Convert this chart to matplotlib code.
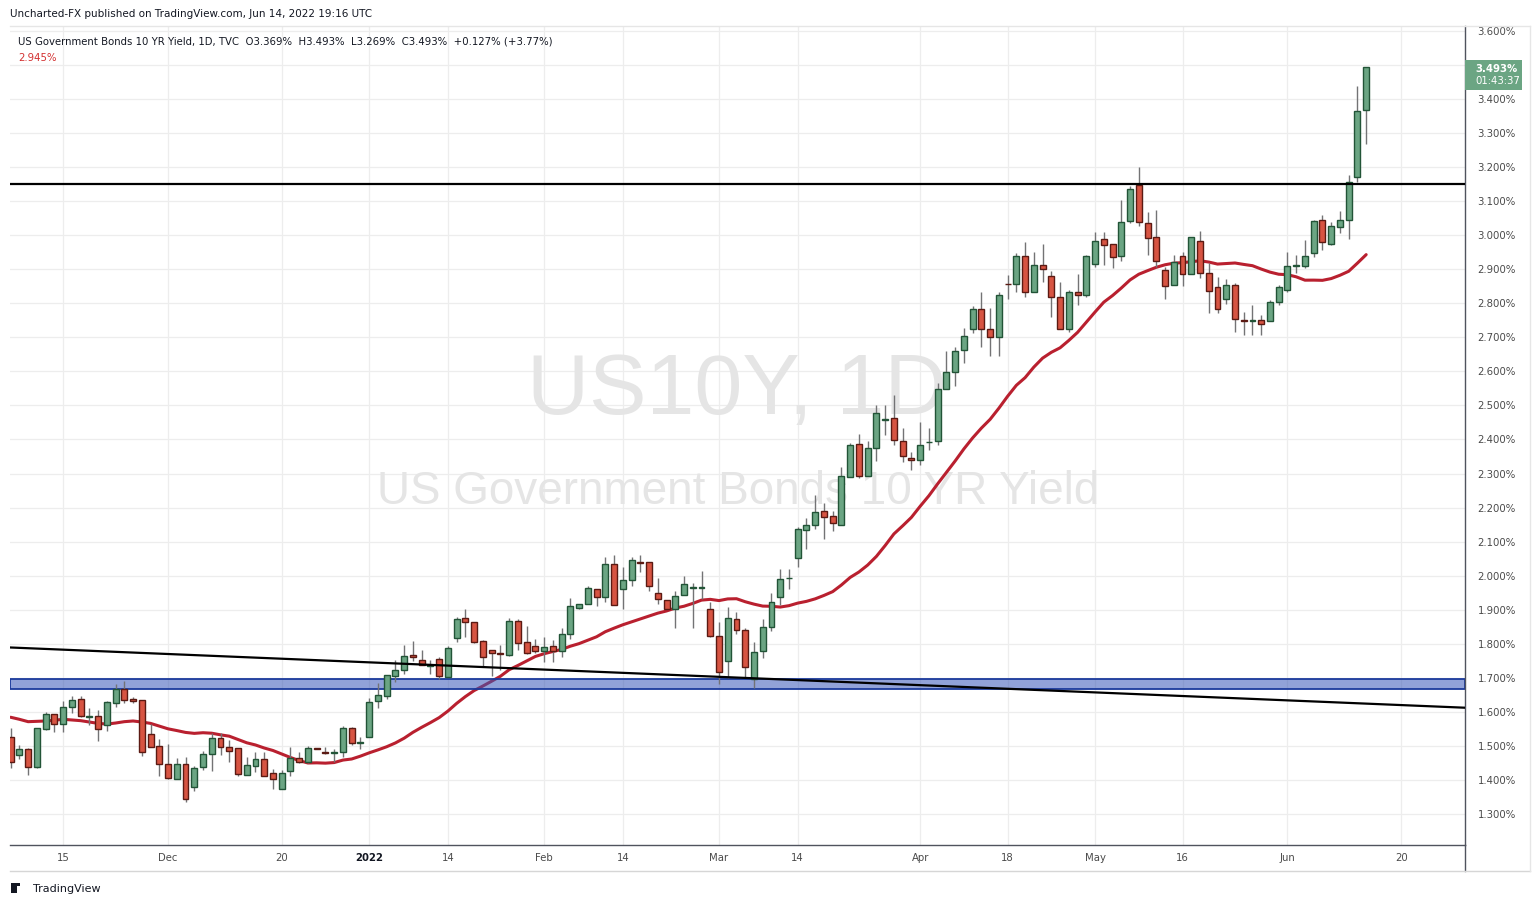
import numpy as np
import pandas as pd
import matplotlib
matplotlib.use('Agg')
import matplotlib.pyplot as plt
from matplotlib.patches import Rectangle
from matplotlib.lines import Line2D

# US10Y daily candles, Nov 2021 - Jun 14 2022 (values in %)
opens = [1.526, 1.472, 1.490, 1.437, 1.550, 1.593, 1.563, 1.613, 1.637, 1.586,
         1.587, 1.560, 1.625, 1.666, 1.638, 1.634, 1.534, 1.501, 1.446, 1.402,
         1.446, 1.380, 1.437, 1.475, 1.522, 1.498, 1.493, 1.413, 1.440, 1.460,
         1.421, 1.374, 1.425, 1.463, 1.454, 1.492, 1.481, 1.479, 1.483, 1.551,
         1.509, 1.527, 1.631, 1.645, 1.704, 1.722, 1.766, 1.751, 1.735, 1.754,
         1.703, 1.816, 1.877, 1.863, 1.808, 1.781, 1.773, 1.768, 1.866, 1.804,
         1.792, 1.778, 1.792, 1.778, 1.830, 1.904, 1.916, 1.960, 1.936, 2.033,
         1.960, 1.986, 2.041, 2.040, 1.948, 1.927, 1.901, 1.942, 1.965, 1.965,
         1.901, 1.824, 1.748, 1.874, 1.839, 1.695, 1.778, 1.848, 1.936, 1.992,
         2.051, 2.134, 2.148, 2.189, 2.174, 2.148, 2.289, 2.386, 2.292, 2.374,
         2.458, 2.462, 2.395, 2.347, 2.339, 2.392, 2.396, 2.547, 2.597, 2.662,
         2.724, 2.782, 2.724, 2.702, 2.858, 2.856, 2.938, 2.832, 2.912, 2.879,
         2.820, 2.724, 2.832, 2.823, 2.916, 2.988, 2.973, 2.938, 3.041, 3.148,
         3.035, 2.994, 2.898, 2.853, 2.938, 2.885, 2.982, 2.888, 2.847, 2.812,
         2.853, 2.751, 2.748, 2.750, 2.747, 2.803, 2.838, 2.910, 2.909, 2.947,
         3.044, 2.975, 3.023, 3.044, 3.172, 3.369]
highs = [1.552, 1.502, 1.493, 1.553, 1.598, 1.595, 1.632, 1.645, 1.646, 1.610,
         1.605, 1.632, 1.682, 1.691, 1.643, 1.636, 1.563, 1.521, 1.505, 1.463,
         1.468, 1.441, 1.485, 1.537, 1.537, 1.517, 1.493, 1.466, 1.482, 1.482,
         1.431, 1.429, 1.496, 1.482, 1.500, 1.493, 1.496, 1.490, 1.559, 1.554,
         1.525, 1.640, 1.684, 1.707, 1.752, 1.796, 1.808, 1.782, 1.752, 1.762,
         1.793, 1.879, 1.902, 1.863, 1.811, 1.781, 1.796, 1.877, 1.873, 1.852,
         1.814, 1.819, 1.811, 1.845, 1.933, 1.918, 1.970, 1.960, 2.056, 2.061,
         2.024, 2.055, 2.061, 2.040, 1.992, 1.927, 1.955, 1.999, 1.977, 2.014,
         1.922, 1.864, 1.907, 1.894, 1.845, 1.806, 1.874, 1.948, 2.019, 2.020,
         2.144, 2.169, 2.236, 2.212, 2.191, 2.318, 2.391, 2.416, 2.396, 2.501,
         2.502, 2.531, 2.433, 2.363, 2.451, 2.434, 2.565, 2.660, 2.671, 2.728,
         2.792, 2.833, 2.785, 2.833, 2.883, 2.947, 2.979, 2.951, 2.974, 2.894,
         2.862, 2.839, 2.886, 2.942, 3.009, 3.009, 2.973, 3.103, 3.145, 3.201,
         3.068, 3.074, 2.906, 2.942, 2.951, 2.994, 3.013, 2.917, 2.876, 2.870,
         2.859, 2.774, 2.794, 2.766, 2.810, 2.854, 2.951, 2.943, 2.986, 3.045,
         3.059, 3.038, 3.071, 3.177, 3.438, 3.493]
lows = [1.435, 1.460, 1.415, 1.435, 1.548, 1.541, 1.541, 1.596, 1.586, 1.560,
        1.515, 1.545, 1.615, 1.627, 1.627, 1.471, 1.498, 1.411, 1.402, 1.402,
        1.336, 1.368, 1.429, 1.427, 1.472, 1.452, 1.411, 1.413, 1.424, 1.410,
        1.372, 1.372, 1.412, 1.449, 1.451, 1.490, 1.476, 1.453, 1.468, 1.503,
        1.492, 1.527, 1.612, 1.638, 1.689, 1.712, 1.750, 1.737, 1.712, 1.695,
        1.701, 1.806, 1.821, 1.801, 1.733, 1.705, 1.723, 1.765, 1.781, 1.770,
        1.772, 1.747, 1.747, 1.760, 1.813, 1.902, 1.916, 1.912, 1.923, 1.913,
        1.902, 1.971, 2.012, 1.956, 1.916, 1.901, 1.847, 1.942, 1.847, 1.930,
        1.819, 1.683, 1.700, 1.828, 1.701, 1.669, 1.759, 1.838, 1.913, 1.960,
        2.026, 2.077, 2.136, 2.107, 2.132, 2.148, 2.289, 2.286, 2.292, 2.338,
        2.414, 2.383, 2.335, 2.309, 2.325, 2.369, 2.384, 2.547, 2.557, 2.626,
        2.714, 2.673, 2.646, 2.646, 2.812, 2.834, 2.820, 2.832, 2.864, 2.761,
        2.724, 2.717, 2.796, 2.820, 2.908, 2.914, 2.903, 2.925, 3.035, 3.028,
        2.943, 2.908, 2.814, 2.853, 2.852, 2.885, 2.875, 2.773, 2.773, 2.798,
        2.717, 2.707, 2.706, 2.707, 2.747, 2.795, 2.833, 2.888, 2.905, 2.937,
        2.957, 2.971, 3.008, 2.989, 3.157, 3.269]
closes = [1.4525, 1.490, 1.437, 1.551, 1.593, 1.563, 1.613, 1.634, 1.589, 1.588,
          1.549, 1.628, 1.666, 1.636, 1.633, 1.481, 1.498, 1.446, 1.405, 1.446,
          1.343, 1.434, 1.475, 1.522, 1.498, 1.484, 1.416, 1.443, 1.460, 1.410,
          1.402, 1.421, 1.463, 1.452, 1.493, 1.491, 1.479, 1.481, 1.551, 1.509,
          1.511, 1.628, 1.648, 1.707, 1.722, 1.763, 1.760, 1.737, 1.736, 1.704,
          1.787, 1.872, 1.863, 1.806, 1.760, 1.772, 1.769, 1.866, 1.801, 1.772,
          1.778, 1.789, 1.778, 1.830, 1.910, 1.916, 1.963, 1.936, 2.033, 1.913,
          1.986, 2.045, 2.038, 1.971, 1.930, 1.901, 1.939, 1.974, 1.966, 1.966,
          1.823, 1.716, 1.877, 1.841, 1.733, 1.775, 1.848, 1.924, 1.989, 1.994,
          2.136, 2.148, 2.186, 2.171, 2.154, 2.292, 2.383, 2.292, 2.374, 2.477,
          2.460, 2.398, 2.351, 2.339, 2.384, 2.394, 2.547, 2.597, 2.659, 2.703,
          2.782, 2.724, 2.702, 2.824, 2.856, 2.938, 2.832, 2.912, 2.900, 2.820,
          2.724, 2.832, 2.825, 2.938, 2.982, 2.972, 2.935, 3.038, 3.135, 3.038,
          2.991, 2.923, 2.850, 2.920, 2.885, 2.994, 2.888, 2.835, 2.782, 2.853,
          2.753, 2.749, 2.750, 2.740, 2.803, 2.847, 2.909, 2.912, 2.938, 3.041,
          2.979, 3.026, 3.044, 3.155, 3.364, 3.493]

# 20 day MA values for the first bars (no earlier data)
ma_head = [1.584, 1.578, 1.571, 1.572, 1.573, 1.575, 1.578, 1.576, 1.574, 1.570,
           1.566, 1.564, 1.567, 1.571, 1.573, 1.570, 1.566, 1.558, 1.550]

tick_pos = [6, 18, 31, 41, 50, 61, 70, 81, 90, 104, 114, 124, 134, 146, 159]
tick_labels = ['15', 'Dec', '20', '2022', '14', 'Feb', '14', 'Mar', '14', 'Apr',
               '18', 'May', '16', 'Jun', '20']
price_ticks = [1.3, 1.4, 1.5, 1.6, 1.7, 1.8, 1.9, 2.0, 2.1, 2.2, 2.3, 2.4,
               2.5, 2.6, 2.7, 2.8, 2.9, 3.0, 3.1, 3.2, 3.3, 3.4, 3.5, 3.6]

resistance = 3.152
trend_line = [1.789, 1.612]      # value at left edge, right edge
support_zone = [1.667, 1.697]

W, H = 1537, 907
UP, DOWN = '#6ba583', '#d75442'
UP_EDGE, DOWN_EDGE = '#225437', '#5b1a13'
WICK = '#737375'


def fx(x):
    return x / W


def fy(y):
    return 1 - y / H


fig = plt.figure(figsize=(W / 100, H / 100), dpi=100)
ax = fig.add_axes([fx(10), fy(845), fx(1465) - fx(10), fy(26) - fy(845)])

o = np.array(opens)
h = np.array(highs)
l = np.array(lows)
c = np.array(closes)
idx = np.arange(len(o))
up = c >= o

# moving average
ma = pd.Series(c).rolling(20).mean().values
ma[:len(ma_head)] = ma_head

# grid
for p in price_ticks:
    ax.axhline(p, color='#ededed', lw=0.9, zorder=0)
for t in tick_pos:
    ax.axvline(t, color='#ededed', lw=0.9, zorder=0)

# watermark
ax.text(fx(737), fy(392), 'US10Y, 1D', transform=fig.transFigure, ha='center', va='center',
        fontsize=62, color='#e5e5e5', family='Liberation Sans', zorder=0.5)
ax.text(fx(738), fy(492), 'US Government Bonds 10 YR Yield', transform=fig.transFigure,
        ha='center', va='center', fontsize=33, color='#e5e5e5', family='Liberation Sans',
        zorder=0.5)

ax.plot(idx, ma, color='#b9202f', lw=2.2, zorder=2, solid_capstyle='round')

ax.axhspan(support_zone[0], support_zone[1], facecolor=(0.22, 0.34, 0.72, 0.55),
           edgecolor='#1b3a9c', lw=1.3, zorder=2.5)

# candles
ax.vlines(idx, l, h, color=WICK, lw=1, zorder=3)
body_lo = np.minimum(o, c)
body_h = np.maximum(np.abs(c - o), 0.002)
ax.bar(idx, body_h, bottom=body_lo, width=0.68,
       color=np.where(up, UP, DOWN), edgecolor=np.where(up, UP_EDGE, DOWN_EDGE),
       lw=1, zorder=4)

# drawings
ax.axhline(resistance, color='black', lw=1.6, zorder=5)
xl = (-0.07, 166.3)
ax.plot(xl, trend_line, color='black', lw=1.6, zorder=5)

ax.set_xlim(*xl)
ax.set_ylim(1.2087, 3.6147)

ax.yaxis.tick_right()
ax.set_yticks(price_ticks)
ax.set_yticklabels(['%.3f%%' % p for p in price_ticks])
ax.tick_params(axis='y', length=0, pad=9, labelsize=7.3, labelcolor='#4a4a4a')
ax.set_xticks(tick_pos)
ax.set_xticklabels(tick_labels)
ax.tick_params(axis='x', length=0, pad=6, labelsize=7.3, labelcolor='#4a4a4a')
for lab in ax.get_xticklabels():
    if lab.get_text() == '2022':
        lab.set_fontweight('bold')
        lab.set_color('#131722')

for s in ['top', 'left']:
    ax.spines[s].set_visible(False)
ax.spines['right'].set_color('#50535e')
ax.spines['bottom'].set_color('#50535e')
ax.spines['right'].set_linewidth(1)
ax.spines['bottom'].set_linewidth(1)

# frame lines outside the pane
fig.add_artist(Line2D([fx(1465), fx(1465)], [fy(845), fy(871)], color='#50535e', lw=1))
fig.add_artist(Line2D([fx(10), fx(1530)], [fy(871), fy(871)], color='#d6d6d6', lw=1))
fig.add_artist(Line2D([fx(10), fx(1530)], [fy(26), fy(26)], color='#e6e6e6', lw=1))
fig.add_artist(Line2D([fx(1530), fx(1530)], [fy(26), fy(871)], color='#e6e6e6', lw=1))

# price tag
fig.add_artist(Rectangle((fx(1465), fy(90)), fx(1522) - fx(1465), fy(60) - fy(90),
                         facecolor='#6ba583', edgecolor='none'))
fig.text(fx(1475), fy(69), '3.493%', color='white', fontsize=7.3, fontweight='bold',
         va='center')
fig.text(fx(1475), fy(81), '01:43:37', color='white', fontsize=7.3, va='center')

# header texts
fig.text(fx(10), fy(14), 'Uncharted-FX published on TradingView.com, Jun 14, 2022 19:16 UTC',
         fontsize=7.5, color='#131722', va='center')
fig.text(fx(18), fy(41),
         'US Government Bonds 10 YR Yield, 1D, TVC  O3.369%  H3.493%  L3.269%  C3.493%  +0.127% (+3.77%)',
         fontsize=7.3, color='#131722', va='center')
fig.text(fx(18), fy(58), '2.945%', fontsize=7.3, color='#d32f2f', va='center')

# footer logo
fig.add_artist(Rectangle((fx(11), fy(893)), fx(6), fy(0) - fy(9), facecolor='#131722'))
fig.add_artist(Rectangle((fx(11), fy(886)), fx(9), fy(0) - fy(3), facecolor='#131722'))
fig.text(fx(33), fy(889), 'TradingView', fontsize=8, color='#131722', va='center')

fig.savefig('out.png', dpi=100)
